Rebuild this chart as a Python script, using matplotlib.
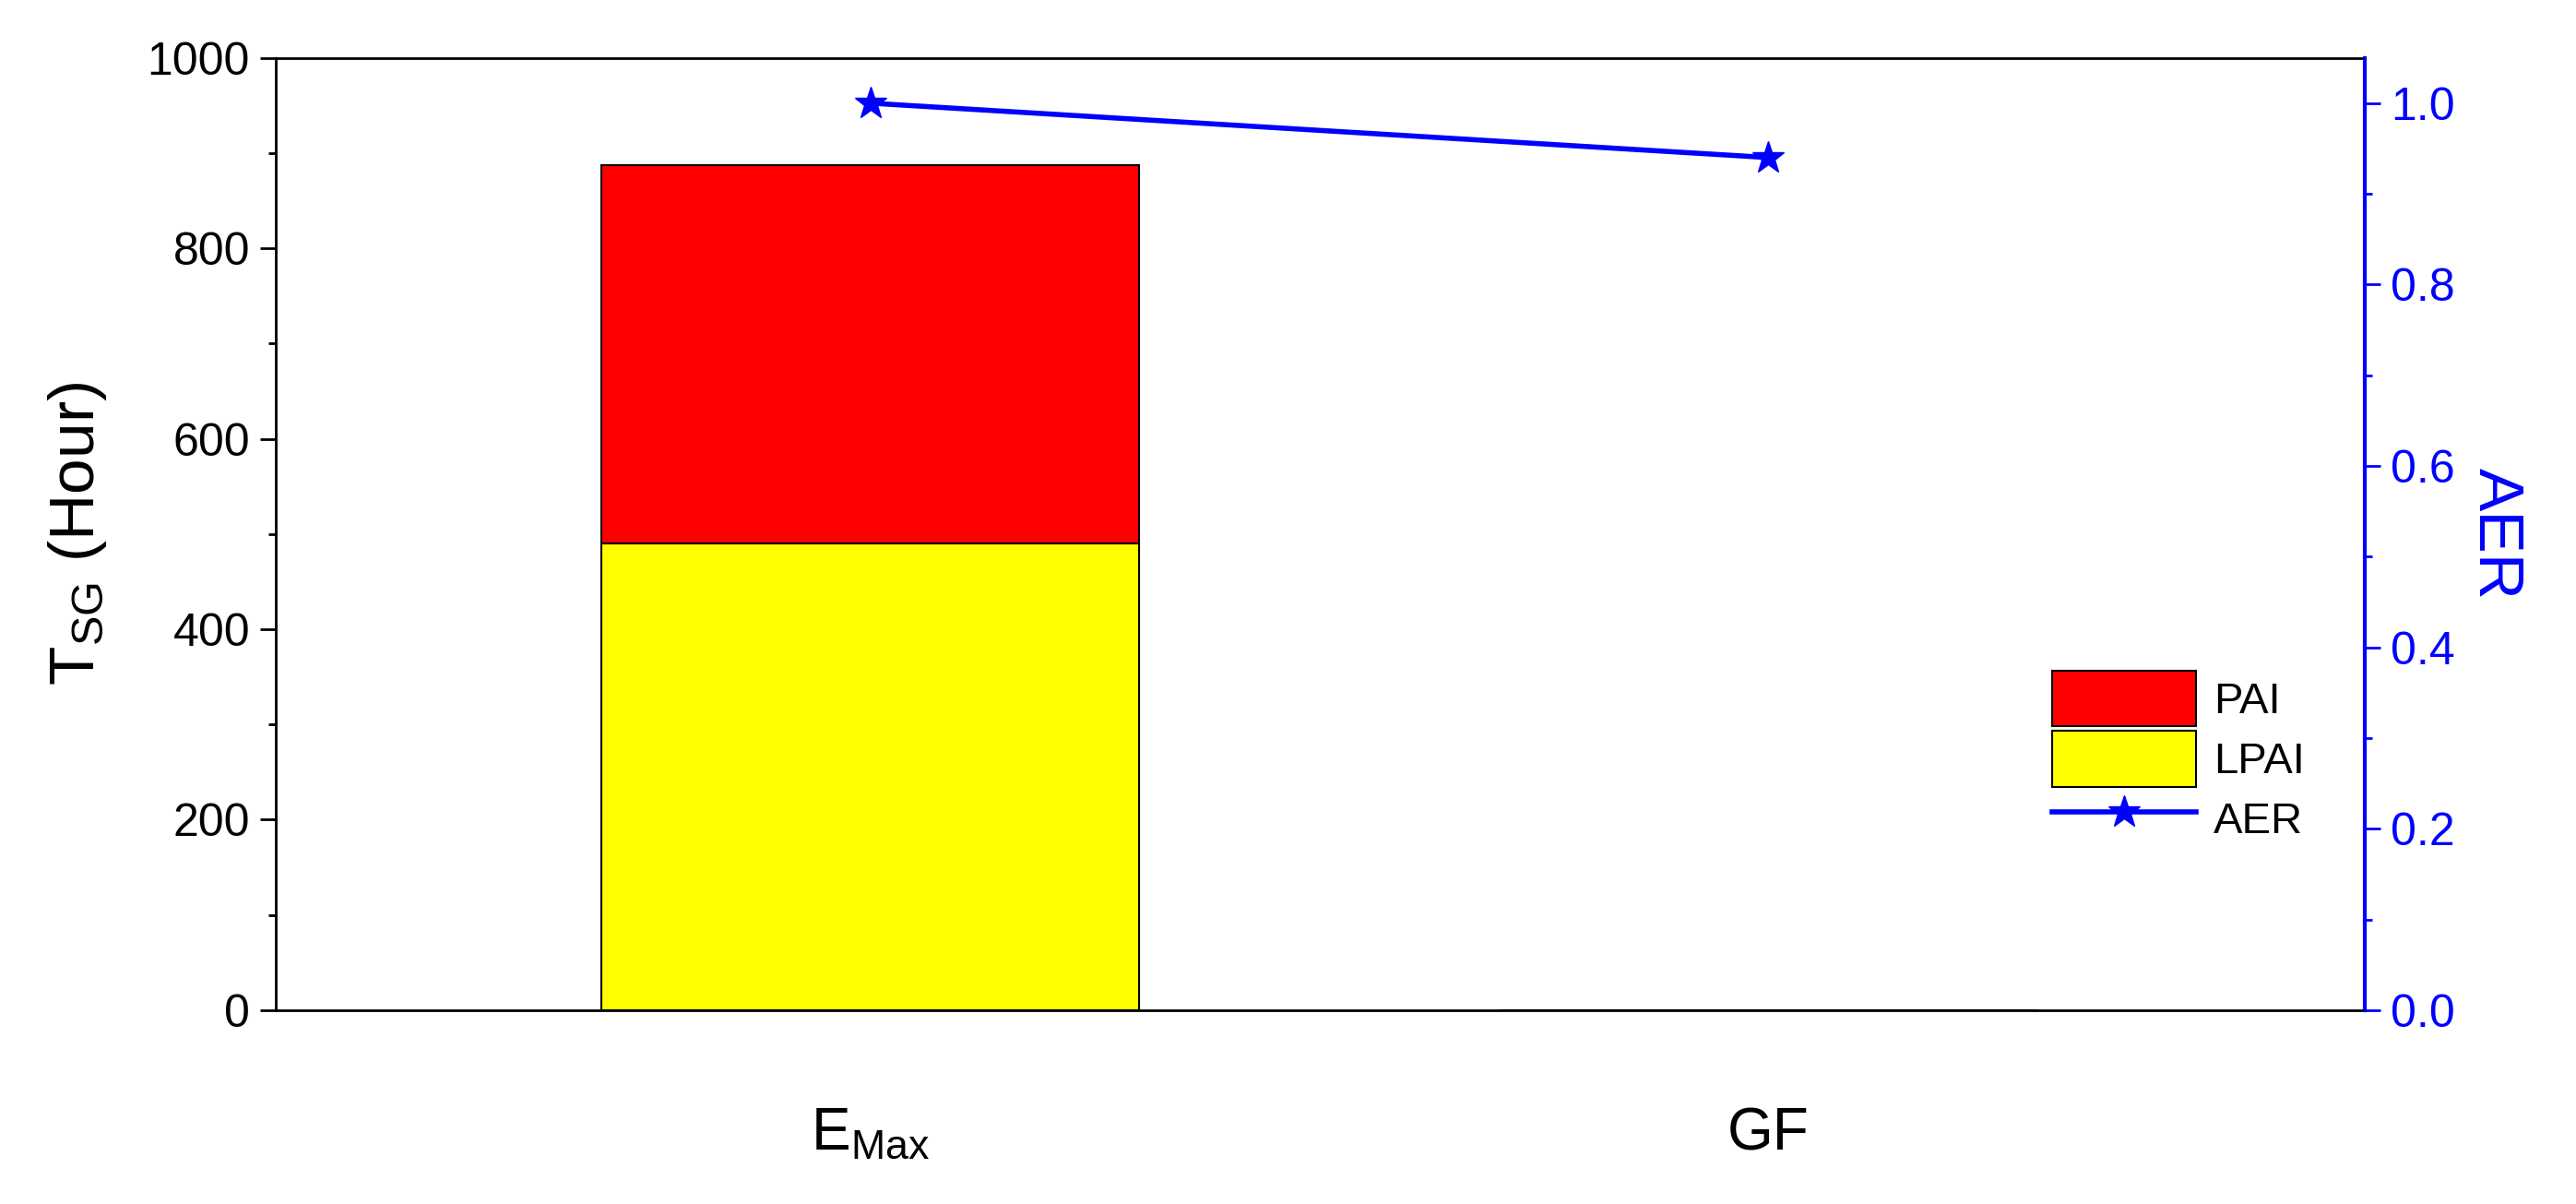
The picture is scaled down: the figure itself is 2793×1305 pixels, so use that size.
import matplotlib
matplotlib.use("Agg")
import matplotlib.pyplot as plt
from matplotlib.ticker import MultipleLocator

categories = ["$\\mathregular{E_{Max}}$", "GF"]
lpai = [490, 0]
pai = [397, 0]
aer = [1.0, 0.94]

plt.rcParams['font.family'] = ['Arial', 'Liberation Sans', 'DejaVu Sans']
fig = plt.figure(figsize=(27.93, 13.05), dpi=100)
ax = fig.add_axes([0.107, 0.161, 0.811, 0.791])
x = list(range(len(categories)))
ax.bar(x, lpai, width=0.598, color='#ffff00', edgecolor='black', linewidth=1.5, label='LPAI')
ax.bar(x, pai, width=0.598, bottom=lpai, color='#ff0000', edgecolor='black', linewidth=1.5, label='PAI')
ax.set_xlim(-0.662, 1.664)
ax.set_ylim(0, 1000)
ax.set_xticks(x)
ax.set_xticklabels(categories, fontsize=46)
ax.tick_params(axis='x', length=0, pad=75)
ax.yaxis.set_major_locator(MultipleLocator(200))
ax.yaxis.set_minor_locator(MultipleLocator(100))
ax.tick_params(axis='y', labelsize=36, length=12, width=2, direction='out', pad=8)
ax.tick_params(axis='y', which='minor', length=6, width=2)
ax.set_ylabel("$\\mathregular{T_{SG}}$ (Hour)", fontsize=50, labelpad=30)
for s in ax.spines.values():
    s.set_linewidth(2)

ax2 = ax.twinx()
ln, = ax2.plot(x, aer, color='#0000ff', linewidth=4, marker='*', markersize=26, label='AER')
ax2.set_ylim(0, 1.05)
ax2.yaxis.set_major_locator(MultipleLocator(0.2))
ax2.yaxis.set_minor_locator(MultipleLocator(0.1))
ax2.tick_params(axis='y', labelsize=36, length=12, width=2, colors='#0000ff', direction='out', pad=8)
ax2.tick_params(axis='y', which='minor', length=6, width=2, colors='#0000ff')
ax2.spines['right'].set_color('#0000ff')
ax2.spines['right'].set_linewidth(3)
ax2.set_ylabel("AER", fontsize=50, color='#0000ff', rotation=270, labelpad=55)

h, l = ax.get_legend_handles_labels()
ax.legend([h[1], h[0], ln], ['PAI', 'LPAI', 'AER'], loc='lower right',
          bbox_to_anchor=(0.99, 0.13), fontsize=34, frameon=False,
          handlelength=3.3, handleheight=1.6, labelspacing=0.1, handletextpad=0.4)
fig.savefig("out.png", dpi=100)
